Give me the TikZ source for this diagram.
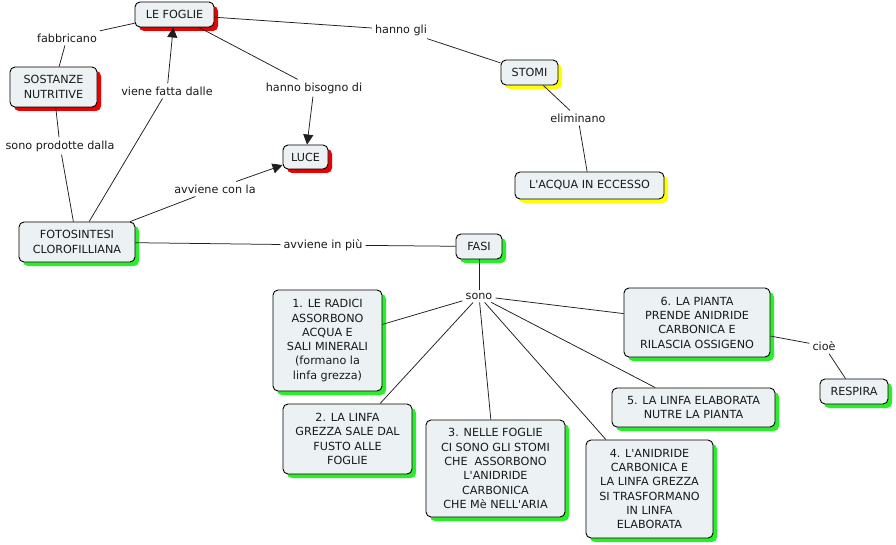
\documentclass[tikz,border=0pt]{standalone}
\usepackage{fontspec}
\setmainfont{DejaVu Sans}[Ligatures=TeXOff]
\usetikzlibrary{shadows,arrows.meta}
\definecolor{boxfill}{RGB}{236,242,244}
\definecolor{shred}{RGB}{235,0,0}
\definecolor{shyel}{RGB}{255,255,0}
\definecolor{shgrn}{RGB}{40,240,40}
\definecolor{txt}{RGB}{25,25,25}
\definecolor{linkc}{RGB}{30,30,30}
\begin{document}
\begin{tikzpicture}[x=1pt,y=-1pt,
  every node/.style={font=\fontsize{11.2}{14.3}\selectfont, text=txt},
  concept/.style={draw=black, line width=0.9pt, rounded corners=5pt, fill=boxfill, align=center, inner sep=0pt},
  redsh/.style={drop shadow={shadow xshift=4pt, shadow yshift=-4pt, fill=shred, opacity=1}},
  yelsh/.style={drop shadow={shadow xshift=4pt, shadow yshift=-4pt, fill=shyel, opacity=1}},
  grnsh/.style={drop shadow={shadow xshift=4pt, shadow yshift=-4pt, fill=shgrn, opacity=1}},
  lab/.style={fill=white, inner sep=3pt},
  link/.style={draw=linkc, line width=0.75pt},
  arr/.style={link, -{Triangle[length=10pt,width=10pt]}}]
\useasboundingbox (0,0) rectangle (896,545);
\fill[white] (0,0) rectangle (896,545);

% concepts
\node[concept,redsh,minimum width=79pt,minimum height=25pt] (foglie) at (174.5,14.5) {LE FOGLIE};
\node[concept,redsh,minimum width=87pt,minimum height=40pt] (sost) at (53.5,87) {SOSTANZE\\ NUTRITIVE};
\node[concept,redsh,minimum width=45pt,minimum height=24pt] (luce) at (305.5,157) {LUCE};
\node[concept,yelsh,minimum width=57pt,minimum height=25pt] (stomi) at (529.5,72.5) {STOMI};
\node[concept,yelsh,minimum width=149pt,minimum height=27pt] (acqua) at (589.5,185.5) {L'ACQUA IN ECCESSO};
\node[concept,grnsh,minimum width=116pt,minimum height=40pt] (foto) at (77,242) {FOTOSINTESI\\CLOROFILLIANA};
\node[concept,grnsh,minimum width=46pt,minimum height=25pt] (fasi) at (479,246.5) {FASI};
\node[concept,grnsh,minimum width=109pt,minimum height=101pt] (f1) at (327.5,340.5) {1. LE RADICI\\ ASSORBONO\\ ACQUA E\\ SALI MINERALI\\ (formano la\\ linfa grezza)};
\node[concept,grnsh,minimum width=129pt,minimum height=70pt] (f2) at (347.5,439) {2. LA LINFA\\ GREZZA SALE DAL\\ FUSTO ALLE\\ FOGLIE};
\node[concept,grnsh,minimum width=139pt,minimum height=97pt] (f3) at (495.5,468.5) {3. NELLE FOGLIE\\ CI SONO GLI STOMI\\ CHE\ \ ASSORBONO\\ L'ANIDRIDE\\ CARBONICA\\ CHE Mè NELL'ARIA};
\node[concept,grnsh,minimum width=127pt,minimum height=98pt] (f4) at (649.5,489) {4. L'ANIDRIDE\\ CARBONICA E\\ LA LINFA GREZZA\\ SI TRASFORMANO\\ IN LINFA\\ ELABORATA};
\node[concept,grnsh,minimum width=163pt,minimum height=39pt] (f5) at (693.5,407.5) {5. LA LINFA ELABORATA\\ NUTRE LA PIANTA};
\node[concept,grnsh,minimum width=146pt,minimum height=69pt] (f6) at (697,322.5) {6. LA PIANTA\\ PRENDE ANIDRIDE\\ CARBONICA E\\ RILASCIA OSSIGENO};
\node[concept,grnsh,minimum width=68pt,minimum height=25pt] (resp) at (854,391.5) {RESPIRA};

% linking phrases
\node[lab] (l1) at (67,38) {fabbricano};
\node[lab] (l2) at (401,30) {hanno gli};
\node[lab] (l3) at (167,91) {viene fatta dalle};
\node[lab] (l4) at (314,88) {hanno bisogno di};
\node[lab] (l5) at (60,146) {sono prodotte dalla};
\node[lab] (l6) at (215,189) {avviene con la};
\node[lab] (l7) at (323,245) {avviene in più};
\node[lab] (l8) at (578,118) {eliminano};
\node[lab] (l9) at (479,296) {sono};
\node[lab] (l10) at (824,346) {cioè};

% connectors
\draw[link] (foglie) -- (l1);
\draw[link] (l1) -- (sost);
\draw[link] (foglie) -- (l2);
\draw[link] (l2) -- (stomi);
\draw[link] (foto) -- (l3);
\draw[arr] (l3) -- (foglie);
\draw[link] (foglie) -- (l4);
\draw[arr] (l4) -- (luce);
\draw[link] (sost) -- (l5);
\draw[link] (l5) -- (foto);
\draw[link] (foto) -- (l6);
\draw[arr] (l6) -- (luce);
\draw[link] (foto) -- (l7);
\draw[link] (l7) -- (fasi);
\draw[link] (stomi) -- (l8);
\draw[link] (l8) -- (acqua);
\draw[link] (fasi) -- (l9);
\draw[link] (l9) -- (f1);
\draw[link] (l9) -- (f2);
\draw[link] (l9) -- (f3);
\draw[link] (l9) -- (f4);
\draw[link] (l9) -- (f5);
\draw[link] (l9) -- (f6);
\draw[link] (f6) -- (l10);
\draw[link] (l10) -- (resp);
\end{tikzpicture}
\end{document}
